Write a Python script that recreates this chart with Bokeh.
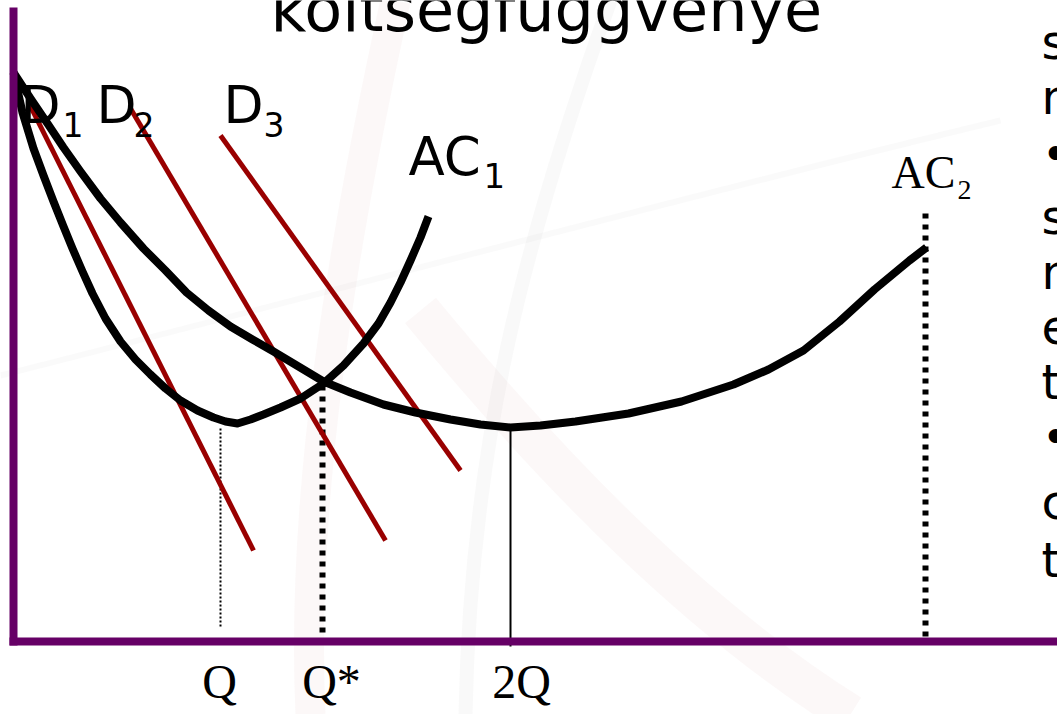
from bokeh.plotting import figure
from bokeh.models import Range1d
from bokeh.core.properties import value
from bokeh.embed import file_html
from bokeh.resources import INLINE

# Quantity / unit-cost coordinates, origin at the corner of the two axes.

# Short-run average cost curve of the small plant (AC1)
ac1_q = [0, 9, 20, 30, 40, 50, 59, 69, 79, 92, 107, 122, 137, 152, 167, 184, 200, 212,
         224, 237, 250, 267, 287, 310, 330, 350, 365, 377, 387, 397, 407, 415]
ac1_c = [569, 529, 493, 466, 440, 415, 393, 370, 348, 323, 300, 282, 267, 253, 241, 231, 224, 220,
         218, 222, 227, 234, 243, 258, 276, 298, 318, 339, 359, 381, 404, 425]

# Average cost curve of the doubled plant (AC2)
ac2_q = [0, 17, 34, 50, 67, 87, 107, 130, 152, 173, 195, 217, 239, 260, 285, 310, 337, 370,
         402, 437, 467, 497, 527, 562, 615, 668, 720, 755, 790, 826, 861, 896, 913]
ac2_c = [569, 543, 518, 494, 470, 443, 419, 393, 371, 349, 331, 315, 302, 290, 275, 260, 249, 237,
         229, 222, 217, 214, 216, 220, 228, 240, 257, 272, 291, 320, 352, 381, 394]

# Demand lines D1, D2, D3 (start and end points)
demand_q0 = [15, 117, 207]
demand_c0 = [539, 533, 506]
demand_q1 = [240, 372, 447]
demand_c1 = [91, 101, 171]

# Quantity markers on the horizontal axis
tick_names = ["Q", "Q*", "2Q"]
tick_q = [207, 309, 497]
tick_label_q = [206, 318, 508]
tick_top = [213, 256, 214]
ac2_end_q = 912
ac2_end_top = 428

# Text in the right-hand column
side_text = ["s", "n", "\u2022", "s", "n", "e", "t", "\u2022", "c", "t"]
side_base = [581, 526, 469, 406, 351, 296, 241, 186, 121, 63]

RED = "#990000"
PURPLE = "#660066"
SANS = value("DejaVu Sans")
SERIF = value("Liberation Serif")


def lift(y, size):
    """Raise a baseline so the glyphs sit on it in the SVG renderer."""
    return [v + 0.39 * size for v in y]


p = figure(width=1057, height=714, x_range=Range1d(-13, 1044), y_range=Range1d(-73, 641),
           x_axis_type=None, y_axis_type=None, toolbar_location=None,
           output_backend="svg", min_border=0, outline_line_color=None,
           background_fill_color="white", border_fill_color="white")
p.xgrid.visible = False
p.ygrid.visible = False

# faint background emblem
p.bezier(x0=[382], y0=[641], x1=[297], y1=[-73], cx0=[327], cy0=[391], cx1=[287], cy1=[141],
         line_color="#c07070", line_width=30, line_alpha=0.05)
p.bezier(x0=[597], y0=[641], x1=[452], y1=[-73], cx0=[507], cy0=[391], cx1=[457], cy1=[191],
         line_color="#888888", line_width=14, line_alpha=0.05)
p.bezier(x0=[-13], y0=[266], x1=[987], y1=[521], cx0=[320], cy0=[350], cx1=[650], cy1=[440],
         line_color="#999999", line_width=6, line_alpha=0.05)
p.bezier(x0=[407], y0=[331], x1=[837], y1=[-73], cx0=[547], cy0=[161], cx1=[687], cy1=[21],
         line_color="#c07070", line_width=40, line_alpha=0.05)

# title (last line of the slide heading)
p.text(x=[257], y=lift([608], 62), text=["költségfüggvénye"], text_font=SANS,
       text_font_size=value("62px"), text_baseline="alphabetic", text_color="black")

# vertical guides
p.segment(x0=[tick_q[0]], y0=[tick_top[0]], x1=[tick_q[0]], y1=[13],
          line_color="black", line_width=2, line_dash="2 2")
p.segment(x0=[tick_q[1], ac2_end_q], y0=[tick_top[1], ac2_end_top],
          x1=[tick_q[1], ac2_end_q], y1=[0, 0],
          line_color="black", line_width=6, line_dash="5 6")
p.segment(x0=[tick_q[2]], y0=[tick_top[2]], x1=[tick_q[2]], y1=[-5],
          line_color="black", line_width=2)

# demand lines
p.segment(x0=demand_q0, y0=demand_c0, x1=demand_q1, y1=demand_c1,
          line_color=RED, line_width=5)

# average cost curves
p.line(ac1_q, ac1_c, line_color="black", line_width=8, line_join="round")
p.line(ac2_q, ac2_c, line_color="black", line_width=8, line_join="round")

# axes
p.segment(x0=[0, -4], y0=[634, 0], x1=[0, 1044], y1=[-4, 0],
          line_color=PURPLE, line_width=8)

# axis labels
p.text(x=tick_label_q, y=lift([-59, -59, -59], 48), text=tick_names, text_font=SERIF,
       text_font_size=value("48px"), text_align="center", text_baseline="alphabetic",
       text_color="black")

# curve labels
p.text(x=[7, 83, 210], y=lift([516, 516, 516], 52), text=["D", "D", "D"], text_font=SANS,
       text_font_size=value("52px"), text_baseline="alphabetic", text_color="black")
p.text(x=[49, 120, 250], y=lift([504, 504, 504], 33), text=["1", "2", "3"], text_font=SANS,
       text_font_size=value("33px"), text_baseline="alphabetic", text_color="black")
p.text(x=[395], y=lift([464], 53), text=["AC"], text_font=SANS,
       text_font_size=value("53px"), text_baseline="alphabetic", text_color="black")
p.text(x=[470], y=lift([453], 34), text=["1"], text_font=SANS,
       text_font_size=value("34px"), text_baseline="alphabetic", text_color="black")
p.text(x=[878], y=lift([451], 46), text=["AC"], text_font=SERIF,
       text_font_size=value("46px"), text_baseline="alphabetic", text_color="black")
p.text(x=[944], y=lift([441], 28), text=["2"], text_font=SERIF,
       text_font_size=value("28px"), text_baseline="alphabetic", text_color="black")

# right-hand text column
p.text(x=[1028] * len(side_text), y=lift(side_base, 48), text=side_text, text_font=SANS,
       text_font_size=value("48px"), text_baseline="alphabetic", text_color="black")

open("out.html", "w").write(file_html(p, INLINE))
